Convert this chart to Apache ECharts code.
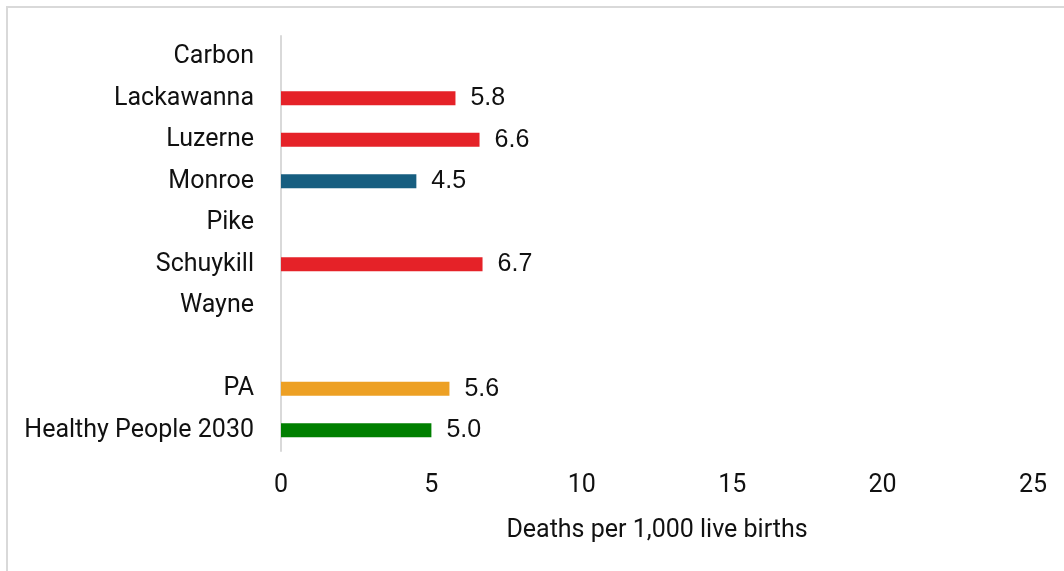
<!DOCTYPE html>
<html><head><meta charset="utf-8">
<script src="https://cdn.jsdelivr.net/npm/echarts@6/dist/echarts.min.js"></script>
<style>html,body{margin:0;padding:0;background:#fff}#c{width:1064px;height:571px}</style>
</head><body><div id="c"></div>
<script>
const categories = ['Carbon','Lackawanna','Luzerne','Monroe','Pike','Schuykill','Wayne','','PA','Healthy People 2030'];
const values = [null, 5.8, 6.6, 4.5, null, 6.7, null, null, 5.6, 5.0];
const barColors = ['#E52228','#E52228','#E52228','#175E80','#E52228','#E52228','#E52228','#E52228','#EDA024','#007F00'];
const xTicks = [0, 5, 10, 15, 20, 25];
const xTitle = 'Deaths per 1,000 live births';

const font = 'Roboto, "Liberation Sans", sans-serif';
const valFont = '"Liberation Sans", Arial, sans-serif';
const chart = echarts.init(document.getElementById('c'));
chart.setOption({
  animation: false,
  graphic: [{type:'rect', shape:{x:7,y:7,width:1200,height:700}, style:{fill:'none', stroke:'#d9d9d9', lineWidth:2}, silent:true}],
  grid: {left: 281, right: 31, top: 36, bottom: 120, containLabel: false},
  xAxis: {
    type: 'value', min: xTicks[0], max: xTicks[xTicks.length-1], interval: 5,
    axisLine: {show:false}, axisTick:{show:false}, splitLine:{show:false},
    axisLabel: {color:'#111', fontSize: 25, fontFamily: font, margin: 22},
    name: xTitle, nameLocation: 'middle', nameGap: 67,
    nameTextStyle: {color:'#111', fontSize: 25, fontFamily: font}
  },
  yAxis: {
    type: 'category', data: categories, inverse: true,
    axisLine: {show:true, lineStyle:{color:'#d9d9d9', width:2}},
    axisTick: {show:false},
    axisLabel: {color:'#111', fontSize: 25, fontFamily: font, margin: 27}
  },
  series: [{
    type: 'bar', barWidth: 14,
    data: values.map((v,i) => ({value: v, itemStyle:{color: barColors[i]}})),
    label: {show: true, position: 'right', distance: 15, color:'#111', fontSize: 25, fontFamily: valFont,
      formatter: p => (p.value == null ? '' : Number(p.value).toFixed(1))}
  }]
});
</script></body></html>
